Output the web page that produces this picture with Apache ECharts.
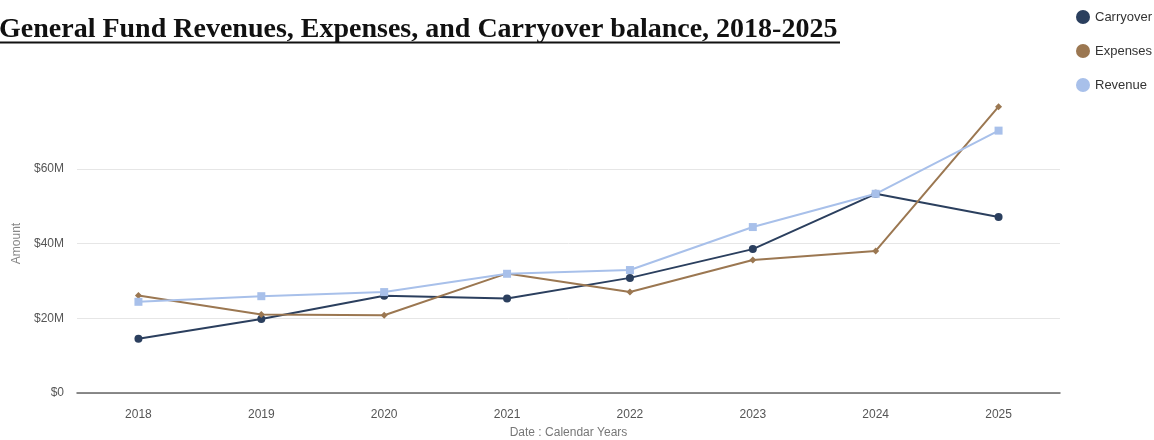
<!DOCTYPE html>
<html>
<head>
<meta charset="utf-8">
<script src="https://cdn.jsdelivr.net/npm/echarts@6/dist/echarts.min.js"></script>
<style>
  html, body { margin: 0; padding: 0; background: #fff; }
  #main { width: 1154px; height: 440px; }
</style>
</head>
<body>
<div id="main"></div>
<script>
// values in $M
const years = ['2018', '2019', '2020', '2021', '2022', '2023', '2024', '2025'];
const carryover = [14.5, 19.8, 26.0, 25.3, 30.8, 38.5, 53.3, 47.1];
const expenses = [26.1, 21.0, 20.8, 32.0, 27.0, 35.6, 38.0, 76.6];
const revenue = [24.4, 25.9, 27.0, 31.9, 32.9, 44.4, 53.3, 70.2];

const chart = echarts.init(document.getElementById('main'));

const font = 'Liberation Sans, Arial, sans-serif';

const option = {
  backgroundColor: '#fff',
  animation: false,
  title: {
    text: 'General Fund Revenues, Expenses, and Carryover balance, 2018-2025',
    left: -6,
    top: 11,
    textStyle: {
      fontFamily: 'Liberation Serif, Times New Roman, serif',
      fontSize: 28,
      fontWeight: 'bold',
      color: '#111'
    }
  },
  graphic: [
    {
      type: 'line',
      shape: { x1: 0, y1: 42.5, x2: 840, y2: 42.5 },
      style: { stroke: '#111', lineWidth: 2 }
    }
  ],
  legend: {
    orient: 'vertical',
    left: 1071,
    top: 5,
    itemGap: 20,
    icon: 'circle',
    itemWidth: 14,
    itemHeight: 14,
    textStyle: { fontFamily: font, fontSize: 13, color: '#333' },
    data: ['Carryover', 'Expenses', 'Revenue']
  },
  grid: { left: 77, right: 94, top: 94, bottom: 47, outerBoundsMode: 'none' },
  xAxis: {
    type: 'category',
    data: years,
    name: 'Date : Calendar Years',
    nameLocation: 'middle',
    nameGap: 34,
    nameTextStyle: { fontFamily: font, fontSize: 12, color: '#777' },
    axisLine: { lineStyle: { color: '#666', width: 1.5 } },
    axisTick: { show: false },
    axisLabel: { fontFamily: font, fontSize: 12, color: '#555', margin: 16 }
  },
  yAxis: {
    type: 'value',
    min: 0,
    max: 80,
    interval: 20,
    name: 'Amount',
    nameLocation: 'middle',
    nameGap: 49,
    nameTextStyle: { fontFamily: font, fontSize: 12, color: '#888' },
    axisLine: { show: false },
    axisTick: { show: false },
    axisLabel: {
      fontFamily: font,
      fontSize: 12,
      color: '#555',
      margin: 13,
      showMaxLabel: false,
      formatter: v => v === 0 ? '$0' : '$' + v + 'M'
    },
    splitLine: { showMaxLine: false, lineStyle: { color: '#e6e6e6' } }
  },
  series: [
    {
      name: 'Carryover',
      type: 'line',
      data: carryover,
      symbol: 'circle',
      symbolSize: 8,
      color: '#2b3f5e',
      lineStyle: { width: 2 }
    },
    {
      name: 'Expenses',
      type: 'line',
      data: expenses,
      symbol: 'diamond',
      symbolSize: 7,
      color: '#9b7751',
      lineStyle: { width: 2 }
    },
    {
      name: 'Revenue',
      type: 'line',
      data: revenue,
      symbol: 'rect',
      symbolSize: 8,
      color: '#a8c0ea',
      lineStyle: { width: 2 }
    }
  ]
};

chart.setOption(option);
</script>
</body>
</html>
